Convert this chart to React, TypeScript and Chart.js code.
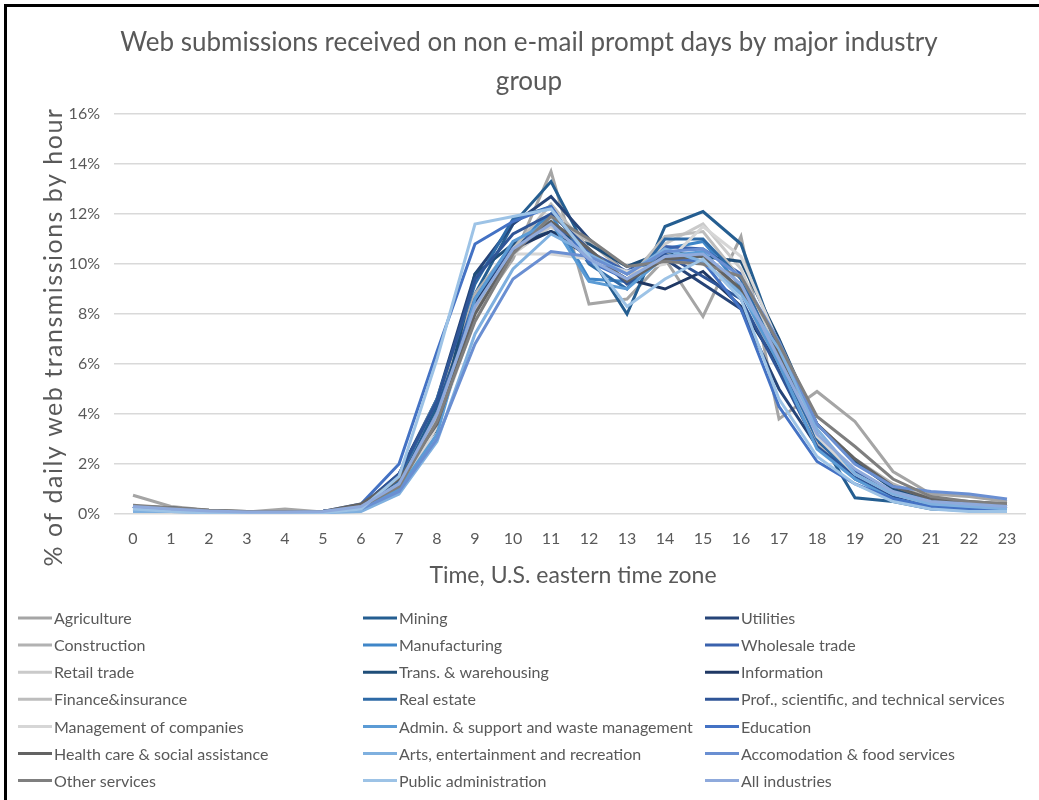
import React, { useEffect, useRef } from "react";
import { Chart, registerables } from "chart.js";

Chart.register(...registerables);

const FONT = "Lato, 'Open Sans', sans-serif";
const TEXT = "#595959";

const TITLE = ["Web submissions received on non e-mail prompt days by major industry", "group"];
const Y_TITLE = "% of daily web transmissions by hour";
const X_TITLE = "Time, U.S. eastern time zone";

const hours = ["0", "1", "2", "3", "4", "5", "6", "7", "8", "9", "10", "11", "12", "13", "14", "15", "16", "17", "18", "19", "20", "21", "22", "23"];

const agriculture = [0.75, 0.3, 0.15, 0.08, 0.2, 0.08, 0.2, 1.0, 4.2, 8.0, 10.2, 13.7, 8.4, 8.6, 10.2, 7.9, 11.1, 3.8, 4.9, 3.7, 1.7, 0.8, 0.7, 0.5];
const construction = [0.2, 0.15, 0.1, 0.05, 0.05, 0.08, 0.3, 1.4, 4.6, 8.8, 10.8, 11.9, 10.9, 9.6, 10.4, 10.0, 9.0, 5.8, 3.6, 2.2, 1.2, 0.6, 0.4, 0.3];
const retailTrade = [0.3, 0.2, 0.1, 0.1, 0.1, 0.1, 0.3, 1.0, 3.8, 8.0, 10.4, 11.5, 10.3, 9.4, 10.8, 11.6, 9.8, 6.3, 2.9, 1.5, 0.8, 0.4, 0.3, 0.2];
const financeInsurance = [0.2, 0.1, 0.08, 0.05, 0.05, 0.08, 0.3, 1.2, 3.9, 8.2, 10.6, 12.4, 10.6, 9.3, 11.1, 11.3, 9.4, 6.0, 2.8, 1.4, 0.7, 0.3, 0.3, 0.2];
const managementCompanies = [0.2, 0.1, 0.05, 0.05, 0.05, 0.05, 0.2, 0.9, 3.5, 7.8, 10.4, 10.4, 10.2, 9.7, 10.0, 11.5, 10.3, 6.8, 3.1, 1.6, 0.8, 0.4, 0.3, 0.2];
const healthCare = [0.3, 0.25, 0.15, 0.1, 0.1, 0.1, 0.4, 1.4, 3.6, 8.0, 10.5, 11.7, 10.6, 9.3, 10.2, 10.3, 9.0, 6.4, 3.6, 2.2, 1.1, 0.6, 0.5, 0.4];
const otherServices = [0.35, 0.25, 0.15, 0.1, 0.1, 0.1, 0.3, 1.1, 3.7, 7.7, 10.4, 11.9, 11.0, 9.9, 10.1, 10.0, 9.5, 6.8, 3.9, 2.7, 1.4, 0.7, 0.5, 0.4];
const mining = [0.3, 0.2, 0.1, 0.1, 0.05, 0.1, 0.3, 1.3, 4.3, 8.8, 11.6, 13.3, 10.4, 8.0, 11.5, 12.1, 10.8, 6.6, 3.2, 0.65, 0.5, 0.2, 0.15, 0.1];
const manufacturing = [0.25, 0.15, 0.1, 0.05, 0.05, 0.1, 0.3, 1.3, 3.8, 8.5, 10.8, 12.0, 9.4, 9.3, 10.6, 10.9, 9.1, 6.0, 2.7, 1.5, 0.7, 0.3, 0.3, 0.2];
const transWarehousing = [0.3, 0.25, 0.1, 0.1, 0.05, 0.1, 0.3, 1.5, 3.4, 9.6, 10.8, 11.3, 10.8, 9.9, 10.5, 10.3, 10.1, 7.0, 3.6, 2.1, 1.0, 0.5, 0.4, 0.3];
const realEstate = [0.3, 0.2, 0.1, 0.05, 0.05, 0.1, 0.3, 1.4, 4.6, 9.2, 11.8, 12.3, 10.0, 9.0, 11.0, 11.0, 9.4, 6.2, 3.0, 1.4, 0.7, 0.3, 0.2, 0.2];
const adminSupport = [0.3, 0.2, 0.1, 0.05, 0.05, 0.1, 0.2, 1.0, 3.2, 8.6, 10.9, 11.7, 9.3, 9.0, 10.3, 10.5, 8.9, 6.0, 2.6, 1.4, 0.6, 0.3, 0.2, 0.2];
const artsEntertainment = [0.1, 0.1, 0.05, 0.05, 0.05, 0.05, 0.1, 0.8, 2.9, 7.2, 9.8, 11.2, 10.4, 9.6, 10.6, 10.1, 8.8, 6.6, 3.4, 1.6, 0.8, 0.4, 0.3, 0.2];
const publicAdministration = [0.2, 0.1, 0.05, 0.05, 0.05, 0.05, 0.2, 1.5, 6.2, 11.6, 11.9, 12.2, 10.3, 8.3, 9.4, 10.2, 8.6, 4.6, 2.3, 1.2, 0.5, 0.2, 0.1, 0.1];
const utilities = [0.3, 0.2, 0.1, 0.05, 0.05, 0.1, 0.3, 1.6, 4.6, 9.6, 11.6, 12.7, 11.0, 9.6, 10.2, 9.2, 8.2, 5.0, 2.7, 1.6, 0.8, 0.4, 0.3, 0.2];
const wholesaleTrade = [0.3, 0.2, 0.1, 0.05, 0.05, 0.1, 0.3, 1.2, 4.0, 8.6, 10.8, 11.6, 10.5, 9.7, 10.7, 10.6, 9.6, 6.5, 3.1, 1.7, 0.9, 0.5, 0.4, 0.3];
const information = [0.3, 0.2, 0.1, 0.05, 0.05, 0.1, 0.3, 1.4, 3.7, 8.4, 10.6, 11.3, 10.3, 9.4, 9.0, 9.7, 8.3, 5.9, 2.9, 1.6, 0.8, 0.4, 0.3, 0.2];
const profServices = [0.3, 0.2, 0.1, 0.05, 0.05, 0.1, 0.3, 1.6, 4.5, 9.4, 11.2, 12.0, 10.6, 9.2, 10.4, 9.5, 8.6, 5.7, 2.7, 1.5, 0.7, 0.4, 0.3, 0.2];
const education = [0.3, 0.2, 0.1, 0.05, 0.05, 0.1, 0.4, 2.0, 6.5, 10.8, 11.7, 12.3, 10.1, 9.4, 10.2, 10.1, 8.2, 4.3, 2.1, 1.2, 0.6, 0.3, 0.2, 0.2];
const accomodationFood = [0.3, 0.2, 0.1, 0.05, 0.05, 0.1, 0.2, 0.9, 3.0, 6.8, 9.4, 10.5, 10.3, 9.6, 10.5, 10.6, 9.5, 6.9, 3.6, 2.0, 1.1, 0.9, 0.8, 0.6];
const allIndustries = [0.3, 0.2, 0.12, 0.08, 0.08, 0.1, 0.3, 1.2, 4.0, 8.3, 10.6, 11.6, 10.2, 9.4, 10.3, 10.4, 9.2, 6.2, 3.2, 1.8, 0.9, 0.5, 0.4, 0.3];

// legend / series order (row-major across 3 columns)
const seriesNames = [
  "Agriculture", "Mining", "Utilities",
  "Construction", "Manufacturing", "Wholesale trade",
  "Retail trade", "Trans. & warehousing", "Information",
  "Finance&insurance", "Real estate", "Prof., scientific, and technical services",
  "Management of companies", "Admin. & support and waste management", "Education",
  "Health care & social assistance", "Arts, entertainment and recreation", "Accomodation & food services",
  "Other services", "Public administration", "All industries",
];
const seriesValues = [
  agriculture, mining, utilities,
  construction, manufacturing, wholesaleTrade,
  retailTrade, transWarehousing, information,
  financeInsurance, realEstate, profServices,
  managementCompanies, adminSupport, education,
  healthCare, artsEntertainment, accomodationFood,
  otherServices, publicAdministration, allIndustries,
];
const seriesColors = [
  "#a5a5a5", "#255e91", "#264478",
  "#b2b2b2", "#3f86c8", "#3a62ad",
  "#cacaca", "#1f4e79", "#1f3864",
  "#bdbdbd", "#2e6aa6", "#2f5597",
  "#d6d6d6", "#5b9bd5", "#4472c4",
  "#636363", "#7fb0df", "#6a8fd2",
  "#7f7f7f", "#9dc3e6", "#8faadc",
];

const yTicks = [0, 2, 4, 6, 8, 10, 12, 14, 16];

const overlayPlugin = {
  id: "overlay",
  afterDraw(chart: any) {
    const ctx = chart.ctx as CanvasRenderingContext2D;
    const area = chart.chartArea;
    ctx.save();
    ctx.fillStyle = TEXT;
    ctx.textAlign = "center";
    ctx.textBaseline = "middle";
    // chart title
    ctx.font = `26px ${FONT}`;
    ctx.fillText(TITLE[0], 529, 43);
    ctx.fillText(TITLE[1], 529, 82);
    // y axis title
    ctx.save();
    ctx.font = `25px ${FONT}`;
    (ctx as any).letterSpacing = "1.5px";
    ctx.translate(54, 337);
    ctx.rotate(-Math.PI / 2);
    ctx.fillText(Y_TITLE, 0, 0);
    ctx.restore();
    // x axis title
    ctx.font = `23px ${FONT}`;
    ctx.fillText(X_TITLE, (area.left + area.right) / 2 + 3, 576);
    // legend
    const colX = [18, 363, 705];
    ctx.font = `16px ${FONT}`;
    ctx.textAlign = "left";
    seriesNames.forEach((name, i) => {
      const col = i % 3;
      const row = Math.floor(i / 3);
      const y = 618 + row * 27.1;
      const x = colX[col];
      ctx.strokeStyle = seriesColors[i];
      ctx.lineWidth = 3;
      ctx.beginPath();
      ctx.moveTo(x, y);
      ctx.lineTo(x + 34, y);
      ctx.stroke();
      ctx.fillStyle = TEXT;
      ctx.fillText(name, x + 36, y + 1);
    });
    ctx.restore();
  },
};

export default function App() {
  const canvasRef = useRef<HTMLCanvasElement | null>(null);

  useEffect(() => {
    const canvas = canvasRef.current;
    if (!canvas) return;
    const n = seriesNames.length;
    const chart = new Chart(canvas, {
      type: "line",
      data: {
        labels: hours,
        datasets: seriesNames.map((name, i) => ({
          label: name,
          data: seriesValues[i],
          borderColor: seriesColors[i],
          backgroundColor: seriesColors[i],
          borderWidth: 3,
          pointRadius: 0,
          tension: 0,
          fill: false,
          order: n - i,
        })),
      },
      options: {
        responsive: false,
        animation: false,
        devicePixelRatio: 1,
        layout: { padding: { left: 8, right: 13, top: 114, bottom: 0 } },
        plugins: {
          legend: { display: false },
          tooltip: { enabled: false },
          title: { display: false },
        },
        scales: {
          x: {
            offset: true,
            grid: { display: false, drawTicks: false },
            border: { display: false },
            ticks: {
              color: TEXT,
              font: { family: FONT, size: 16 },
              padding: 15,
              maxRotation: 0,
              autoSkip: false,
            },
            afterFit: (scale: any) => {
              scale.height = 286;
            },
          },
          y: {
            min: 0,
            max: 16,
            afterBuildTicks: (scale: any) => {
              scale.ticks = yTicks.map((v) => ({ value: v }));
            },
            grid: { color: "#d9d9d9", lineWidth: 1.5, drawTicks: false },
            border: { display: false },
            ticks: {
              color: TEXT,
              font: { family: FONT, size: 16 },
              padding: 14,
              callback: (v: any) => `${v}%`,
            },
            afterFit: (scale: any) => {
              scale.width = 106;
            },
          },
        },
      },
      plugins: [overlayPlugin],
    });
    return () => chart.destroy();
  }, []);

  return (
    <div style={{ position: "absolute", left: 0, top: 0, width: 1039, height: 800, background: "#fff" }}>
      <canvas ref={canvasRef} width={1039} height={800} style={{ position: "absolute", left: 0, top: 0, width: 1039, height: 800 }} />
      <div
        style={{
          position: "absolute",
          left: 4,
          top: 4,
          width: 1035,
          height: 796,
          borderTop: "3px solid #000",
          borderLeft: "3px solid #000",
          boxSizing: "border-box",
          pointerEvents: "none",
        }}
      />
    </div>
  );
}
